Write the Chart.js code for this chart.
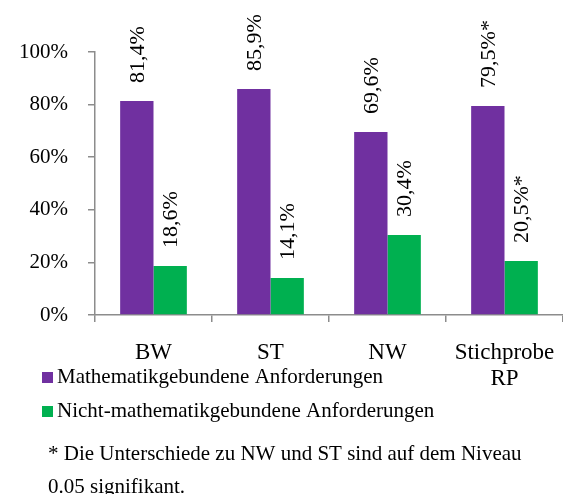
<!DOCTYPE html>
<html lang="de">
<head>
    <meta charset="UTF-8">
    <title>Anforderungen nach Land</title>
    <script src="https://cdn.jsdelivr.net/npm/chart.js"></script>
    <style>
        html, body { margin: 0; padding: 0; background: #ffffff; }
        .chart-container {
            position: relative;
            width: 563px;
            height: 494px;
        }
    </style>
</head>
<body>
    <div class="chart-container">
        <canvas id="anfChart"></canvas>
    </div>

    <script>
        // Daten aus der Abbildung
        const categories = ['BW', 'ST', 'NW', ['Stichprobe', 'RP']];
        const seriesNames = ['Mathematikgebundene Anforderungen', 'Nicht-mathematikgebundene Anforderungen'];
        const mathValues = [81.4, 85.9, 69.6, 79.5];
        const nonMathValues = [18.6, 14.1, 30.4, 20.5];
        const significanceMarks = ['', '', '', '*'];
        const yTicks = [0, 20, 40, 60, 80, 100];
        const footnoteLines = [
            '* Die Unterschiede zu NW und ST sind auf dem Niveau',
            '0.05 signifikant.'
        ];

        const seriesColors = ['#7030A0', '#00B050'];
        const axisColor = '#8c8c8c';
        const serif = "'Liberation Serif', 'Times New Roman', serif";

        // Werte-Beschriftungen senkrecht ueber den Balken
        const valueLabels = {
            id: 'valueLabels',
            afterDatasetsDraw(chart) {
                const ctx = chart.ctx;
                ctx.save();
                ctx.fillStyle = '#000';
                ctx.font = '22px ' + serif;
                ctx.textAlign = 'left';
                ctx.textBaseline = 'middle';
                chart.data.datasets.forEach((ds, di) => {
                    const meta = chart.getDatasetMeta(di);
                    meta.data.forEach((bar, i) => {
                        const txt = ds.data[i].toFixed(1).replace('.', ',') + '%' + significanceMarks[i];
                        ctx.save();
                        ctx.translate(bar.x + 1, bar.y - 18);
                        ctx.rotate(-Math.PI / 2);
                        ctx.fillText(txt, 0, 0);
                        ctx.restore();
                    });
                });
                ctx.restore();
            }
        };

        // Legende und Fussnote unten links
        const legendAndNote = {
            id: 'legendAndNote',
            afterDraw(chart) {
                const ctx = chart.ctx;
                ctx.save();
                ctx.textBaseline = 'middle';
                ctx.textAlign = 'left';
                ctx.font = '21px ' + serif;
                const rows = [377, 411];
                chart.data.datasets.forEach((ds, i) => {
                    ctx.fillStyle = ds.backgroundColor;
                    ctx.fillRect(42, rows[i] - 5, 11, 11);
                    ctx.fillStyle = '#000';
                    ctx.fillText(ds.label, 57, rows[i]);
                });
                const noteRows = [454, 487];
                footnoteLines.forEach((line, i) => {
                    ctx.fillText(line, 48, noteRows[i]);
                });
                ctx.restore();
            }
        };

        const ctx = document.getElementById('anfChart').getContext('2d');
        new Chart(ctx, {
            type: 'bar',
            data: {
                labels: categories,
                datasets: [
                    {
                        label: seriesNames[0],
                        data: mathValues,
                        backgroundColor: seriesColors[0],
                        categoryPercentage: 0.57,
                        barPercentage: 1.0
                    },
                    {
                        label: seriesNames[1],
                        data: nonMathValues,
                        backgroundColor: seriesColors[1],
                        categoryPercentage: 0.57,
                        barPercentage: 1.0
                    }
                ]
            },
            options: {
                responsive: true,
                maintainAspectRatio: false,
                animation: false,
                layout: {
                    padding: { top: 52, left: 0, right: -2, bottom: 0 }
                },
                scales: {
                    x: {
                        afterFit: (scale) => {
                            scale.height = 179;
                            scale.paddingLeft = 0;
                            scale.paddingRight = 0;
                        },
                        border: { color: axisColor, width: 1.5 },
                        grid: {
                            display: true,
                            drawOnChartArea: false,
                            drawTicks: true,
                            tickLength: 7,
                            color: axisColor,
                            lineWidth: 1.5
                        },
                        ticks: {
                            color: '#000',
                            padding: 18,
                            maxRotation: 0,
                            font: { family: serif, size: 23, lineHeight: 1.12 }
                        }
                    },
                    y: {
                        min: 0,
                        max: 100,
                        afterFit: (scale) => { scale.width = 95; },
                        afterBuildTicks: (scale) => {
                            scale.ticks = yTicks.map(v => ({ value: v }));
                        },
                        border: { color: axisColor, width: 1.5 },
                        grid: {
                            display: true,
                            drawOnChartArea: false,
                            drawTicks: true,
                            tickLength: 7,
                            color: axisColor,
                            lineWidth: 1.5
                        },
                        ticks: {
                            color: '#000',
                            padding: 20,
                            font: { family: serif, size: 21 },
                            callback: (v) => v + '%'
                        }
                    }
                },
                plugins: {
                    legend: { display: false },
                    tooltip: { enabled: false }
                }
            },
            plugins: [valueLabels, legendAndNote]
        });
    </script>
</body>
</html>
